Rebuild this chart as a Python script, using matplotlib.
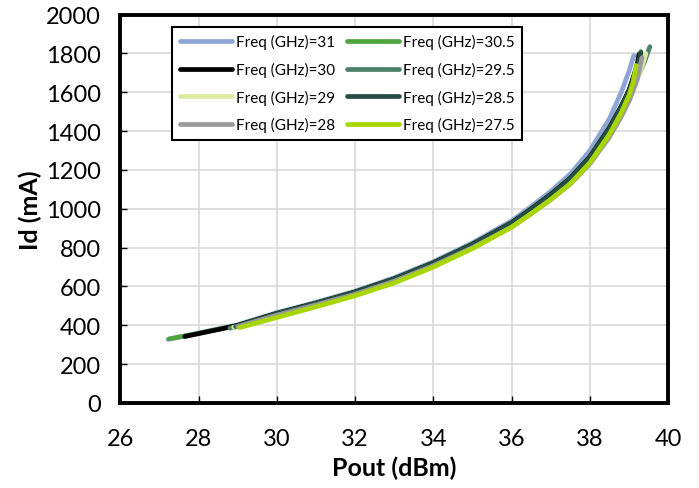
import matplotlib
matplotlib.use("Agg")
import matplotlib.pyplot as plt

plt.rcParams['font.family'] = ['Lato', 'DejaVu Sans']

# Id (mA) vs Pout (dBm), one list pair per frequency
freqs = ['31', '30.5', '30', '29.5', '29', '28.5', '28', '27.5']
colors = ['#8FA5D6', '#4EA540', '#000000', '#4D806B', '#DCEDA0', '#254D45', '#999999', '#A8D600']

pout_31 = [27.22, 28.0, 29.0, 30.0, 31.0, 32.0, 33.0, 34.0, 35.0, 36.0, 36.5, 37.0, 37.5, 38.0, 38.5, 38.8, 39.0, 39.12]
id_31 = [327, 360, 403, 465, 518, 576, 645, 728, 825, 938, 1012, 1090, 1180, 1300, 1465, 1600, 1710, 1790]

pout_305 = [27.25, 28.0, 29.0, 30.0, 31.0, 32.0, 33.0, 34.0, 35.0, 36.0, 36.5, 37.0, 37.5, 38.0, 38.5, 38.8, 39.0, 39.2, 39.3]
id_305 = [330, 358, 400, 462, 515, 572, 640, 722, 818, 929, 1000, 1075, 1160, 1270, 1420, 1530, 1610, 1725, 1810]

pout_30 = [27.65, 28.0, 29.0, 30.0, 31.0, 32.0, 33.0, 34.0, 35.0, 36.0, 36.5, 37.0, 37.5, 38.0, 38.5, 38.8, 39.0, 39.2, 39.25]
id_30 = [342, 357, 399, 461, 514, 571, 639, 721, 817, 928, 999, 1074, 1158, 1268, 1418, 1528, 1612, 1735, 1795]

pout_295 = [28.8, 29.0, 30.0, 31.0, 32.0, 33.0, 34.0, 35.0, 36.0, 36.5, 37.0, 37.5, 38.0, 38.5, 38.8, 39.0, 39.2, 39.4, 39.53]
id_295 = [385, 395, 458, 512, 568, 636, 717, 812, 920, 990, 1062, 1145, 1250, 1390, 1495, 1575, 1670, 1760, 1835]

pout_29 = [28.9, 29.0, 30.0, 31.0, 32.0, 33.0, 34.0, 35.0, 36.0, 36.5, 37.0, 37.5, 38.0, 38.5, 38.8, 39.0, 39.2, 39.35, 39.43]
id_29 = [390, 394, 456, 510, 566, 633, 714, 808, 915, 985, 1057, 1140, 1245, 1385, 1490, 1570, 1665, 1745, 1800]

pout_285 = [28.95, 29.0, 30.0, 31.0, 32.0, 33.0, 34.0, 35.0, 36.0, 36.5, 37.0, 37.5, 38.0, 38.5, 38.8, 39.0, 39.2, 39.3]
id_285 = [393, 396, 460, 513, 570, 638, 720, 816, 927, 997, 1072, 1156, 1266, 1415, 1525, 1608, 1722, 1805]

pout_28 = [29.0, 30.0, 31.0, 32.0, 33.0, 34.0, 35.0, 36.0, 36.5, 37.0, 37.5, 38.0, 38.5, 38.8, 39.0, 39.2, 39.33]
id_28 = [393, 452, 505, 560, 627, 707, 800, 906, 975, 1047, 1128, 1232, 1370, 1475, 1555, 1660, 1778]

pout_275 = [29.05, 30.0, 31.0, 32.0, 33.0, 34.0, 35.0, 36.0, 36.5, 37.0, 37.5, 38.0, 38.5, 38.8, 39.0, 39.1, 39.18]
id_275 = [388, 440, 495, 552, 618, 700, 795, 905, 975, 1048, 1130, 1238, 1385, 1495, 1585, 1650, 1738]

pouts = [pout_31, pout_305, pout_30, pout_295, pout_29, pout_285, pout_28, pout_275]
ids = [id_31, id_305, id_30, id_295, id_29, id_285, id_28, id_275]

fig = plt.figure(figsize=(6.99, 4.89), dpi=100)
ax = fig.add_axes([0.172, 0.174, 0.784, 0.794])

lines = {}
for f, c, x, y in zip(freqs, colors, pouts, ids):
    ln, = ax.plot(x, y, color=c, linewidth=3.4, solid_capstyle='round', label='Freq (GHz)=' + f)
    lines[f] = ln

ax.set_xlim(26, 40)
ax.set_ylim(0, 2000)
ax.set_xticks(range(26, 41, 2))
ax.set_yticks(range(0, 2001, 200))
ax.grid(True, color='#D9D9D9', linewidth=1.2)
ax.set_axisbelow(True)
for s in ax.spines.values():
    s.set_linewidth(2.8)
ax.tick_params(direction='in', length=5, width=1, labelsize=17)
ax.tick_params(axis='x', pad=18)
ax.tick_params(axis='y', pad=14)
ax.set_xlabel('Pout (dBm)', fontsize=18, fontweight='bold', labelpad=5)
ax.set_ylabel('Id (mA)', fontsize=18, fontweight='bold', labelpad=3)

order = ['31', '30', '29', '28', '30.5', '29.5', '28.5', '27.5']
leg = ax.legend([lines[k] for k in order], ['Freq (GHz)=' + k for k in order],
                ncol=2, loc='upper left', bbox_to_anchor=(0.095, 0.969),
                borderaxespad=0, fontsize=11, handlelength=3.4, handletextpad=0.25,
                columnspacing=0.8, labelspacing=0.82, fancybox=False,
                edgecolor='black', framealpha=1, borderpad=0.5)
leg.get_frame().set_linewidth(1.5)

fig.savefig('out.png', dpi=100)
